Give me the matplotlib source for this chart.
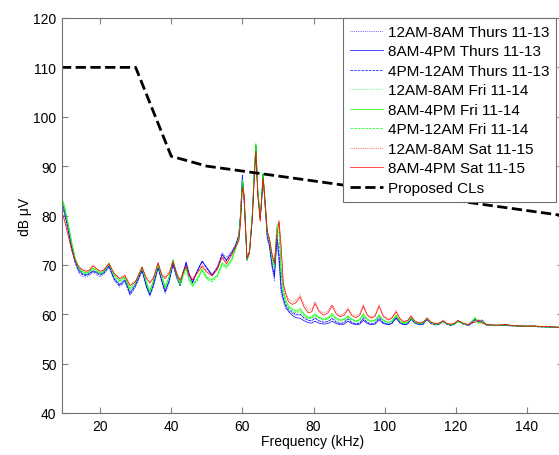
#!/usr/bin/env python3
"""Conducted emission spectra over three days vs. proposed compatibility levels."""

import matplotlib

matplotlib.use("Agg")
import matplotlib.pyplot as plt

FREQ_KHZ = [
    9, 10, 11, 12, 13, 14, 15, 16, 17, 18, 19, 20, 21, 22.5,
    24, 25.5, 27, 28.4, 30, 31.8, 33, 34, 35, 36.3, 37.3, 38.3, 39.4, 40.5, 41.5,
    42.5, 43.4, 44.2, 45, 46, 47.3, 48.7, 50, 51.5, 53, 54.3, 55.5, 57, 58,
    59, 59.5, 60, 60.5, 61.3, 62, 62.8, 63.3, 63.8, 64.3, 65, 65.4, 65.8, 66.3,
    67, 67.6, 68.3, 69, 69.7, 70.3, 70.9, 71.5, 72.2,
    73, 74, 75, 76.2, 77.3, 78.5, 79.5, 80.4, 81.5, 82.8,
    84, 85.2, 86.4, 87.5, 88.6, 89.7, 90.8, 91.9, 93, 94,
    95.1, 96.2, 97.3, 98.4, 99.6, 101, 102, 103.2, 104.3, 105.3,
    106.4, 107.4, 108.5, 109.7, 110.8, 111.9, 113, 114.2, 115.3, 116.4,
    117.5, 118.6, 119.6, 120.6, 122, 123.5, 124.5, 125.4, 126.4, 127.4,
    128.5, 130, 132, 134, 136, 138, 140, 142, 144, 146,
    148, 150,
]

THU_0008 = [
    83.0, 80.5, 77.0, 73.2, 70.2, 68.4, 67.6, 67.5, 67.8, 68.5, 68.0, 67.6, 68.0, 69.5,
    66.8, 65.5, 66.5, 63.8, 65.5, 68.7, 65.5, 63.6, 65.5, 69.3, 66.5, 64.2, 66.3, 70.0, 67.3,
    65.7, 68.3, 70.3, 68.0, 66.2, 68.6, 70.6, 69.5, 68.2, 69.8, 72.5, 71.5, 72.8, 74.0,
    76.2, 81.0, 88.3, 82.5, 70.8, 72.3, 79.5, 87.5, 93.8, 84.5, 79.3, 82.5, 88.0, 82.5,
    75.0, 73.5, 69.5, 66.8, 74.5, 70.0, 64.0, 62.5, 61.0,
    60.8, 60.2, 59.8, 59.9, 59.2, 58.7, 58.6, 59.3, 58.6, 58.3,
    58.5, 59.3, 58.5, 58.2, 58.4, 59.2, 58.4, 58.1, 58.3, 59.4,
    58.4, 58.1, 58.3, 59.5, 58.4, 58.0, 58.3, 59.5, 58.4, 58.0,
    58.1, 59.1, 58.3, 58.0, 58.1, 59.0, 58.2, 57.9, 58.0, 58.6,
    58.0, 57.8, 58.0, 58.7, 58.1, 57.8, 58.2, 58.8, 58.6, 58.9,
    58.0, 57.8, 57.8, 57.8, 57.7, 57.7, 57.6, 57.6, 57.5, 57.5,
    57.4, 57.4,
]
THU_0816 = [
    83.5, 81.0, 77.5, 73.8, 70.8, 69.0, 68.2, 68.0, 68.3, 68.8, 68.5, 68.1, 68.4, 69.8,
    67.2, 66.0, 67.0, 64.3, 66.0, 69.0, 65.8, 64.0, 66.0, 69.6, 67.0, 64.7, 66.8, 70.3, 67.8,
    66.0, 68.6, 70.6, 68.3, 66.5, 68.8, 70.8, 69.3, 67.8, 69.2, 72.2, 71.0, 72.5, 73.8,
    76.0, 80.5, 88.0, 83.0, 71.0, 72.5, 80.0, 88.0, 94.0, 85.0, 79.5, 83.0, 88.3, 83.0,
    75.5, 74.0, 70.0, 67.5, 75.5, 71.5, 65.0, 63.0, 61.5,
    60.5, 59.8, 59.3, 59.2, 58.7, 58.3, 58.2, 58.6, 58.2, 58.0,
    58.1, 58.6, 58.1, 57.9, 58.0, 58.6, 58.1, 57.9, 58.0, 58.8,
    58.1, 57.9, 58.0, 58.9, 58.1, 57.9, 58.1, 59.2, 58.2, 57.9,
    58.0, 59.0, 58.2, 57.9, 58.0, 59.0, 58.2, 57.9, 58.0, 58.6,
    58.0, 57.8, 58.0, 58.7, 58.1, 57.8, 58.3, 59.0, 58.5, 58.7,
    57.9, 57.8, 57.7, 57.8, 57.7, 57.6, 57.6, 57.6, 57.5, 57.4,
    57.4, 57.3,
]
THU_1624 = [
    82.5, 80.5, 77.2, 73.5, 70.5, 68.7, 68.0, 67.8, 68.1, 68.7, 68.3, 67.9, 68.2, 69.7,
    67.0, 65.8, 66.8, 64.0, 65.8, 68.8, 65.6, 63.8, 65.8, 69.4, 66.8, 64.5, 66.6, 70.1, 67.6,
    65.8, 68.5, 70.4, 68.2, 66.4, 68.7, 70.7, 69.4, 68.0, 69.5, 72.0, 70.8, 72.3, 73.6,
    75.8, 80.2, 87.5, 83.3, 71.2, 72.8, 80.3, 88.3, 94.2, 85.3, 79.8, 83.2, 88.5, 83.3,
    76.0, 74.3, 70.5, 68.0, 76.3, 72.5, 65.8, 63.5, 62.0,
    61.0, 60.4, 60.0, 60.0, 59.3, 58.8, 58.7, 59.2, 58.7, 58.4,
    58.5, 59.1, 58.4, 58.1, 58.3, 59.0, 58.3, 58.0, 58.2, 59.1,
    58.3, 58.0, 58.2, 59.2, 58.3, 57.9, 58.2, 59.3, 58.3, 57.9,
    58.0, 59.0, 58.2, 57.9, 58.0, 58.9, 58.1, 57.8, 57.9, 58.5,
    57.9, 57.7, 57.9, 58.6, 58.0, 57.7, 58.1, 58.9, 58.4, 58.6,
    57.8, 57.7, 57.7, 57.7, 57.6, 57.6, 57.5, 57.5, 57.4, 57.4,
    57.3, 57.3,
]
FRI_0008 = [
    84.0, 81.5, 78.0, 74.5, 71.3, 69.3, 68.5, 68.3, 68.6, 69.3, 68.8, 68.3, 68.6, 70.2,
    67.8, 66.7, 67.5, 65.0, 66.5, 69.5, 66.5, 64.5, 66.8, 70.0, 67.8, 65.5, 67.5, 71.0, 68.2,
    66.0, 68.0, 69.5, 67.0, 65.8, 67.0, 69.0, 67.3, 66.8, 67.8, 70.2, 69.5, 71.0, 73.0,
    75.5, 80.0, 87.0, 83.5, 71.0, 72.5, 80.5, 88.5, 94.5, 85.5, 79.5, 83.5, 88.5, 83.5,
    76.5, 75.0, 71.5, 69.5, 77.5, 77.0, 68.5, 64.5, 62.5,
    61.8, 61.2, 60.8, 61.3, 60.2, 59.5, 59.5, 60.3, 59.6, 59.1,
    59.4, 60.3, 59.3, 58.9, 59.1, 59.8, 59.1, 58.7, 59.0, 60.2,
    59.1, 58.7, 58.9, 60.0, 58.9, 58.4, 58.7, 59.9, 58.7, 58.3,
    58.5, 59.4, 58.5, 58.2, 58.3, 59.1, 58.3, 58.1, 58.2, 58.6,
    58.1, 57.9, 58.1, 58.6, 58.1, 57.9, 58.5, 59.0, 58.4, 58.5,
    57.9, 57.8, 57.8, 57.9, 57.7, 57.7, 57.6, 57.6, 57.5, 57.5,
    57.4, 57.4,
]
FRI_0816 = [
    84.2, 82.0, 78.5, 74.8, 71.5, 69.5, 68.7, 68.4, 68.7, 69.4, 68.9, 68.4, 68.7, 70.4,
    68.0, 66.8, 67.6, 65.2, 66.6, 69.6, 66.6, 64.6, 66.9, 70.1, 68.0, 65.6, 67.6, 71.1, 68.3,
    66.2, 68.2, 69.6, 67.2, 66.0, 67.2, 69.2, 67.5, 67.0, 68.0, 70.4, 69.7, 71.2, 73.2,
    75.6, 80.2, 87.3, 83.8, 71.2, 72.6, 80.6, 88.6, 94.6, 85.6, 79.7, 83.6, 88.6, 83.6,
    76.6, 75.2, 71.8, 70.0, 78.0, 78.5, 69.0, 65.0, 63.0,
    61.5, 61.0, 60.6, 61.0, 60.0, 59.3, 59.3, 60.0, 59.4, 59.0,
    59.2, 60.0, 59.2, 58.8, 59.0, 59.6, 59.0, 58.6, 58.9, 60.0,
    59.0, 58.6, 58.8, 59.8, 58.8, 58.3, 58.6, 59.8, 58.6, 58.2,
    58.4, 59.3, 58.4, 58.1, 58.3, 59.1, 58.3, 58.0, 58.1, 58.6,
    58.0, 57.9, 58.1, 58.6, 58.1, 57.9, 58.6, 59.3, 58.2, 58.6,
    57.9, 57.8, 57.8, 57.9, 57.7, 57.6, 57.6, 57.6, 57.5, 57.5,
    57.4, 57.3,
]
FRI_1624 = [
    83.8, 81.5, 78.0, 74.3, 71.0, 69.2, 68.5, 68.2, 68.5, 69.2, 68.7, 68.2, 68.5, 70.1,
    67.6, 66.5, 67.3, 64.8, 66.3, 69.3, 66.3, 64.3, 66.6, 69.8, 67.6, 65.3, 67.3, 70.8, 68.0,
    65.8, 67.8, 69.3, 66.8, 65.6, 66.8, 68.8, 67.1, 66.6, 67.6, 70.0, 69.3, 70.8, 72.8,
    75.4, 79.8, 86.8, 83.3, 70.9, 72.4, 80.3, 88.3, 94.3, 85.3, 79.4, 83.3, 88.3, 83.3,
    76.3, 74.8, 71.3, 69.3, 77.0, 76.5, 68.3, 64.3, 62.3,
    61.2, 60.7, 60.3, 60.6, 59.7, 59.1, 59.1, 59.7, 59.2, 58.8,
    59.0, 59.7, 59.0, 58.6, 58.8, 59.4, 58.8, 58.5, 58.7, 59.7,
    58.8, 58.5, 58.7, 59.6, 58.7, 58.2, 58.5, 59.6, 58.5, 58.1,
    58.3, 59.2, 58.3, 58.0, 58.2, 59.0, 58.2, 57.9, 58.0, 58.5,
    58.0, 57.8, 58.0, 58.5, 58.0, 57.8, 58.4, 59.4, 58.0, 58.4,
    57.8, 57.7, 57.7, 57.8, 57.6, 57.6, 57.5, 57.5, 57.4, 57.4,
    57.3, 57.3,
]
SAT_0008 = [
    81.5, 79.5, 76.5, 73.5, 71.0, 69.5, 69.0, 68.8, 69.0, 70.0, 69.3, 68.8, 69.0, 70.3,
    68.3, 67.3, 68.0, 66.0, 66.8, 69.7, 67.5, 66.5, 67.5, 70.6, 68.3, 67.5, 68.5, 70.9, 68.5,
    67.0, 68.8, 70.0, 68.0, 67.3, 68.5, 70.0, 68.8, 68.0, 69.5, 71.8, 70.5, 72.3, 73.8,
    75.0, 79.0, 86.0, 84.5, 71.5, 72.8, 79.5, 87.0, 93.0, 84.5, 79.0, 83.0, 87.8, 84.0,
    77.0, 75.5, 72.5, 70.5, 76.5, 79.0, 74.0, 66.5, 64.5,
    63.0, 62.5, 62.8, 64.0, 62.0, 60.8, 61.0, 62.6, 61.0, 60.2,
    60.6, 62.0, 60.4, 59.8, 60.2, 61.3, 60.0, 59.6, 60.2, 62.0,
    60.0, 59.4, 59.9, 62.0, 59.8, 59.0, 59.4, 60.8, 59.2, 58.6,
    58.8, 59.8, 58.7, 58.3, 58.5, 59.3, 58.5, 58.2, 58.3, 58.8,
    58.2, 58.0, 58.2, 58.8, 58.2, 58.0, 58.4, 58.5, 59.0, 58.3,
    58.0, 57.9, 57.8, 58.0, 57.7, 57.7, 57.6, 57.7, 57.5, 57.5,
    57.4, 57.4,
]
SAT_0816 = [
    81.0, 79.0, 76.0, 73.0, 70.8, 69.7, 69.0, 68.7, 68.9, 69.8, 69.2, 68.7, 68.9, 70.2,
    68.2, 67.2, 67.8, 65.8, 66.6, 69.5, 67.3, 66.3, 67.3, 70.4, 68.0, 67.2, 68.3, 70.6, 68.3,
    66.8, 68.6, 69.8, 67.8, 67.0, 68.3, 69.7, 68.5, 67.8, 69.2, 71.5, 70.2, 72.0, 73.5,
    74.8, 78.5, 85.5, 84.0, 71.3, 72.6, 79.3, 86.8, 92.8, 84.3, 78.8, 82.8, 87.5, 83.8,
    76.8, 75.3, 72.3, 70.3, 76.0, 78.8, 73.5, 66.2, 64.0,
    62.5, 62.0, 62.3, 63.5, 61.5, 60.3, 60.5, 62.2, 60.6, 59.8,
    60.2, 61.7, 60.0, 59.5, 59.8, 61.0, 59.7, 59.3, 59.8, 61.6,
    59.8, 59.2, 59.6, 61.6, 59.6, 58.8, 59.2, 60.5, 59.0, 58.5,
    58.7, 59.6, 58.6, 58.2, 58.4, 59.2, 58.4, 58.1, 58.2, 58.7,
    58.1, 58.0, 58.2, 58.7, 58.2, 57.9, 58.3, 58.3, 58.8, 58.2,
    57.9, 57.8, 57.8, 57.9, 57.7, 57.6, 57.6, 57.6, 57.5, 57.5,
    57.4, 57.3,
]

LIMIT_KHZ = [9, 30, 40, 50, 150]
LIMIT_DB = [110, 110, 92, 90, 80]

SERIES = [
    ("12AM-8AM Thurs 11-13", THU_0008, "b", ":"),
    ("8AM-4PM Thurs 11-13", THU_0816, "b", "-"),
    ("4PM-12AM Thurs 11-13", THU_1624, "b", "--"),
    ("12AM-8AM Fri 11-14", FRI_0008, "g", ":"),
    ("8AM-4PM Fri 11-14", FRI_0816, "g", "-"),
    ("4PM-12AM Fri 11-14", FRI_1624, "g", "--"),
    ("12AM-8AM Sat 11-15", SAT_0008, "r", ":"),
    ("8AM-4PM Sat 11-15", SAT_0816, "r", "-"),
]
COLORS = {"b": "#0000ff", "g": "#00ff00", "r": "#ff0000"}


def main():
    plt.rcParams["font.family"] = ["Liberation Sans", "DejaVu Sans"]
    fig = plt.figure(figsize=(5.59, 4.56), dpi=100)
    ax = fig.add_axes([62 / 559, 42 / 456, 500.6 / 559, 395 / 456])

    for label, values, key, style in SERIES:
        assert len(values) == len(FREQ_KHZ), label
        ax.plot(FREQ_KHZ, values, color=COLORS[key], linestyle=style,
                linewidth=0.5, label=label)
    ax.plot(LIMIT_KHZ, LIMIT_DB, color="black", linestyle="--",
            linewidth=2.0, label="Proposed CLs")

    ax.set_xlim(9.3, 150)
    ax.set_ylim(40, 120)
    ax.set_xticks(range(20, 150, 20))
    ax.set_yticks(range(40, 121, 10))
    ax.tick_params(direction="in", top=True, right=True, length=4,
                   color="#808080", labelsize=10, labelcolor="black", pad=4)
    for spine in ax.spines.values():
        spine.set_color("#707070")
        spine.set_linewidth(0.8)
    ax.set_xlabel("Frequency (kHz)", fontsize=10, labelpad=1)
    ax.set_ylabel("dB \u03bcV", fontsize=10, labelpad=1)

    leg = ax.legend(loc="upper left", bbox_to_anchor=(0.561, 1.0),
                    borderaxespad=0, fancybox=False, fontsize=11,
                    handlelength=2.2, handletextpad=0.3, labelspacing=0.36,
                    borderpad=0.45, framealpha=1)
    leg.get_frame().set_edgecolor("#707070")
    leg.get_frame().set_linewidth(0.8)

    fig.savefig("out.png", dpi=100)
    plt.close(fig)


if __name__ == "__main__":
    main()
